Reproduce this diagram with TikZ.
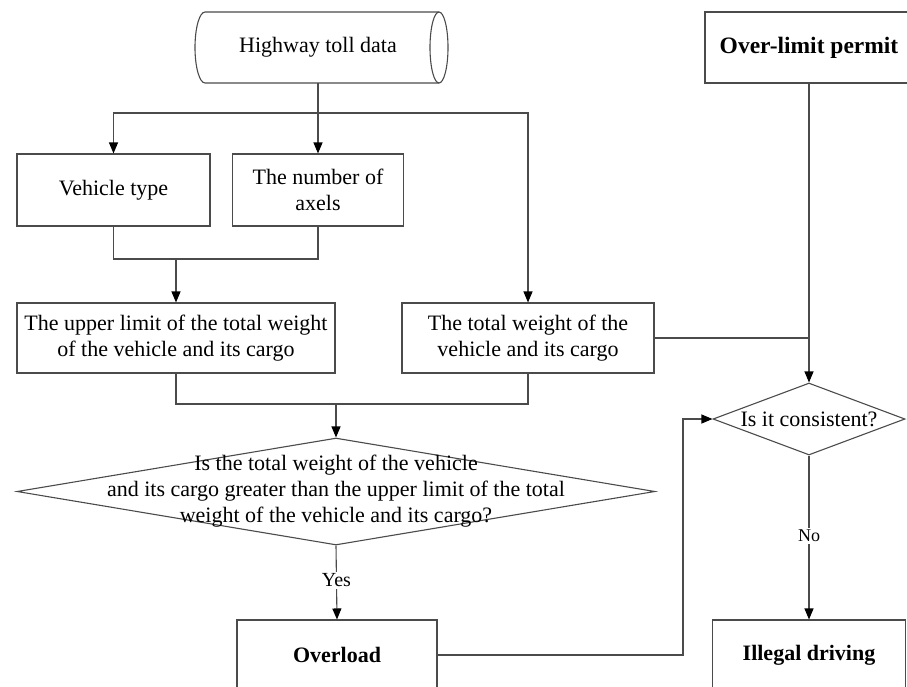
\documentclass[tikz,border=0pt]{standalone}
\usepackage{fontspec}
\setmainfont{Liberation Serif}
\usetikzlibrary{arrows.meta,shapes.geometric}
\definecolor{linegray}{RGB}{75,75,75}
\tikzset{
  txt/.style={font=\fontsize{22}{26}\selectfont, align=center},
  box/.style={draw=linegray, line width=1.1pt, rectangle, inner sep=0pt, txt},
  bbox/.style={box, font=\fontsize{22}{26}\selectfont\bfseries},
  dia/.style={draw=linegray, line width=1.1pt, diamond, inner sep=0pt},
  conn/.style={draw=linegray, line width=1.1pt},
  arr/.style={conn, -{Triangle[length=11pt,width=9pt,color=black]}},
  lbl/.style={fill=white, inner sep=2pt}
}
\begin{document}
\begin{tikzpicture}[x=1pt,y=-1pt]
\useasboundingbox (0,0) rectangle (907,686);
\clip (0,0) rectangle (907,686);
% cylinder
\draw[conn, fill=white] (439,12) -- (205,12) arc[start angle=90,end angle=270,x radius=10pt,y radius=35.5pt] -- (439,83);
\draw[conn] (439,47.5) ellipse [x radius=9pt, y radius=35.5pt];
\node[txt, minimum width=234pt, minimum height=71pt, inner sep=0pt] (toll) at (318,47.5) {Highway toll data};
% boxes
\node[box, minimum width=193pt, minimum height=72pt] (veh) at (113.5,190) {Vehicle type};
\node[box, minimum width=171pt, minimum height=72pt] (axel) at (318,190) {The number of\\axels};
\node[box, minimum width=318pt, minimum height=70pt] (ul) at (176,338) {The upper limit of the total weight\\of the vehicle and its cargo};
\node[box, minimum width=252pt, minimum height=70pt] (tw) at (528,338) {The total weight of the\\vehicle and its cargo};
\node[dia, minimum width=638pt, minimum height=107pt] (d1) at (336,491.5) {};
\node[txt] at (d1.center) {Is the total weight of the vehicle\\and its cargo greater than the upper limit of the total\\weight of the vehicle and its cargo?};
\node[bbox, minimum width=200pt, minimum height=70pt] (ov) at (337,655) {Overload};
\node[box, font=\fontsize{23.5}{28}\selectfont\bfseries, minimum width=208pt, minimum height=71pt] (olp) at (809,47.5) {Over-limit permit};
\node[dia, minimum width=192pt, minimum height=72pt] (d2) at (809,419) {};
\node[txt] at (d2.center) {Is it consistent?};
\node[bbox, minimum width=193pt, minimum height=70pt] (ill) at (809,655) {Illegal driving};
% connectors
\coordinate (split) at (318,113);
\coordinate (join1) at (176,259);
\coordinate (join2) at (336,404);
\coordinate (bend) at (683,419);
\draw[conn] (toll.south) -- (split);
\draw[arr] (split) -| (veh.north);
\draw[arr] (split) -- (axel.north);
\draw[arr] (split) -| (tw.north);
\draw[conn] (veh.south) |- (join1) -| (axel.south);
\draw[arr] (join1) -- (ul.north);
\draw[conn] (ul.south) |- (join2) -| (tw.south);
\draw[arr] (join2) -- (d1.north);
\draw[arr] (d1.south) -- node[lbl, font=\fontsize{20}{24}\selectfont, pos=0.47] {Yes} (ov.north);
\draw[arr] (olp.south) -- (d2.north);
\draw[conn] (tw.east) -- (olp.south |- tw.east);
\draw[arr] (ov.east) -| (bend) -- (d2.west);
\draw[arr] (d2.south) -- node[lbl, font=\fontsize{18}{22}\selectfont, pos=0.49] {No} (ill.north);
\end{tikzpicture}
\end{document}
